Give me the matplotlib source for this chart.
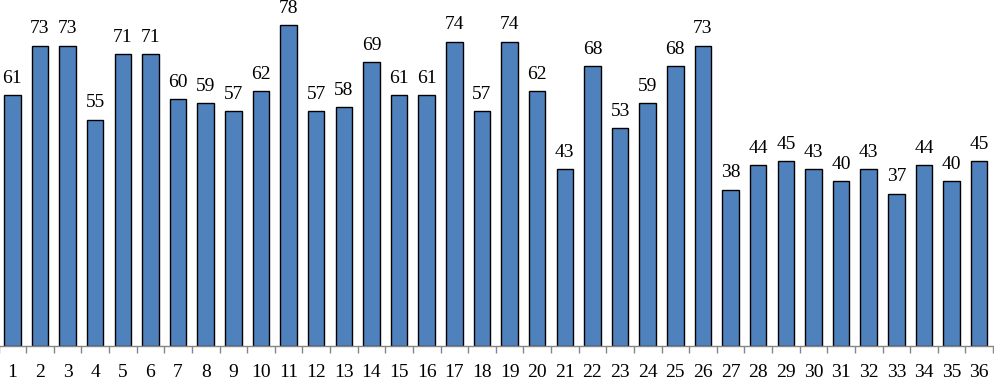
import matplotlib
matplotlib.use("Agg")
import matplotlib.pyplot as plt
import numpy as np

categories = [str(i) for i in range(1, 37)]
values = [61, 73, 73, 55, 71, 71, 60, 59, 57, 62, 78, 57, 58, 69, 61, 61, 74, 57,
          74, 62, 43, 68, 53, 59, 68, 73, 38, 44, 45, 43, 40, 43, 37, 44, 40, 45]

plt.rcParams['font.family'] = ['Liberation Serif', 'DejaVu Serif']

fig = plt.figure(figsize=(9.95, 3.82), dpi=100)
ax = fig.add_axes([-0.0015, 36/382, 0.9995, 346/382])

x = np.arange(len(values))
bars = ax.bar(x, values, width=0.6, color='#4F81BD', edgecolor='black', linewidth=1.0, zorder=2)
for xi, v in zip(x, values):
    ax.annotate(str(v), (xi, v), xytext=(0, 6), textcoords='offset points',
                ha='center', va='bottom', fontsize=14, clip_on=False)

ax.set_xlim(-0.5, len(values) - 0.5)
ax.set_ylim(0, 84.1)
for s in ['top', 'left', 'right']:
    ax.spines[s].set_visible(False)
ax.spines['bottom'].set_color('#868686')
ax.spines['bottom'].set_linewidth(1.0)
ax.set_yticks([])
ax.set_xticks(x)
ax.set_xticklabels(categories, fontsize=14)
ax.tick_params(axis='x', which='major', length=0, pad=13)
ax.set_xticks(np.arange(-0.5, len(values), 1.0), minor=True)
ax.tick_params(axis='x', which='minor', length=5, color='#868686', width=1.0)

fig.savefig('out.png', dpi=100)
